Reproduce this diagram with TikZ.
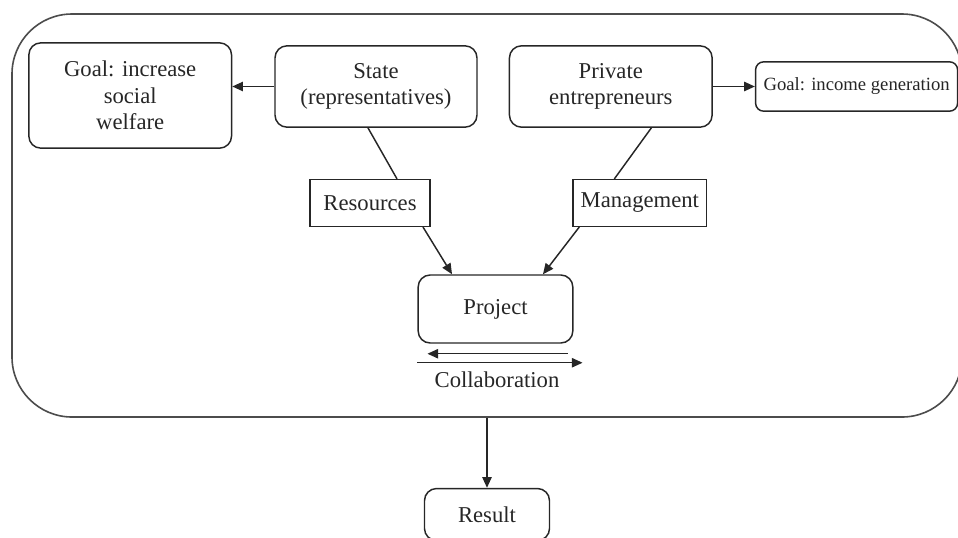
\documentclass[tikz,border=0pt]{standalone}
\usepackage{fontspec}
\setmainfont{Liberation Serif}
\usetikzlibrary{positioning,arrows.meta}
\newcommand\mainfs{\fontsize{17}{20}\selectfont}
\newcommand\smallfs{\fontsize{14}{17}\selectfont}
\tikzset{
  box/.style={draw=black!85, line width=1.1pt, rounded corners=9pt, align=center, inner sep=2pt, font=\mainfs, text=black!85},
  goalbox/.style={box, rounded corners=6pt, font=\smallfs},
  tag/.style={box, rounded corners=0pt},
  frame/.style={draw=black!70, line width=1.2pt, rounded corners=45pt, minimum width=712.5pt, minimum height=302.25pt},
  flow/.style={-{Triangle[length=8pt,width=7pt]}, line width=1.1pt, black!85},
  link/.style={line width=1.1pt, black!85}
}
\begin{document}
\begin{tikzpicture}[x=0.75pt,y=-0.75pt]
  \useasboundingbox (0,0) rectangle (958,537);
  \node[frame] (frame) at (487,215.5) {};

  \node[box, minimum width=151.5pt, minimum height=61pt] (state) at (376,86.5) {State\\(representatives)};
  \node[box, minimum width=152pt, minimum height=79pt, left=31.5pt of state, yshift=-6.75pt] (welfare) {Goal: increase\\social\\welfare};
  \node[box, minimum width=152pt, minimum height=61pt, right=23.25pt of state] (private) {Private\\entrepreneurs};
  \node[goalbox, minimum width=151.5pt, minimum height=37pt, right=31.5pt of private] (income) {Goal: income generation};

  \node[tag, minimum width=90pt, minimum height=35pt, below=38.25pt of state, xshift=-4.5pt] (res) {Resources};
  \node[tag, minimum width=100pt, minimum height=35pt, below=38.25pt of private, xshift=21.75pt] (mgmt) {Management};
  \node[box, minimum width=116pt, minimum height=51pt] (project) at (495.5,309) {Project};
  \node[font=\mainfs, text=black!85, inner sep=0pt] (collab) at (497,380) {Collaboration};

  \node[box, minimum width=93.75pt, minimum height=39pt, below=52.5pt of frame] (result) {Result};

  \draw[flow] (state.west) -- (state.west -| welfare.east);
  \draw[flow] (private) -- (income);
  \draw[link] ([xshift=-6pt]state.south) -- ([xshift=20.25pt]res.north);
  \draw[link] ([xshift=30.4pt]private.south) -- ([xshift=-19.1pt]mgmt.north);
  \draw[flow] ([xshift=39.75pt]res.south) -- ([xshift=-32.6pt]project.north);
  \draw[flow] ([xshift=-45.4pt]mgmt.south) -- ([xshift=35.6pt]project.north);
  % collaboration, both ways
  \draw[flow] ([xshift=-4.5pt,yshift=-7.5pt]project.south east) -- ([xshift=7.5pt,yshift=-7.5pt]project.south west);
  \draw[flow] ([yshift=-14.25pt]project.south west) -- ([xshift=6.75pt,yshift=-14.25pt]project.south east);
  \draw[flow] (frame.south -| result.north) -- (result.north);
\end{tikzpicture}
\end{document}
